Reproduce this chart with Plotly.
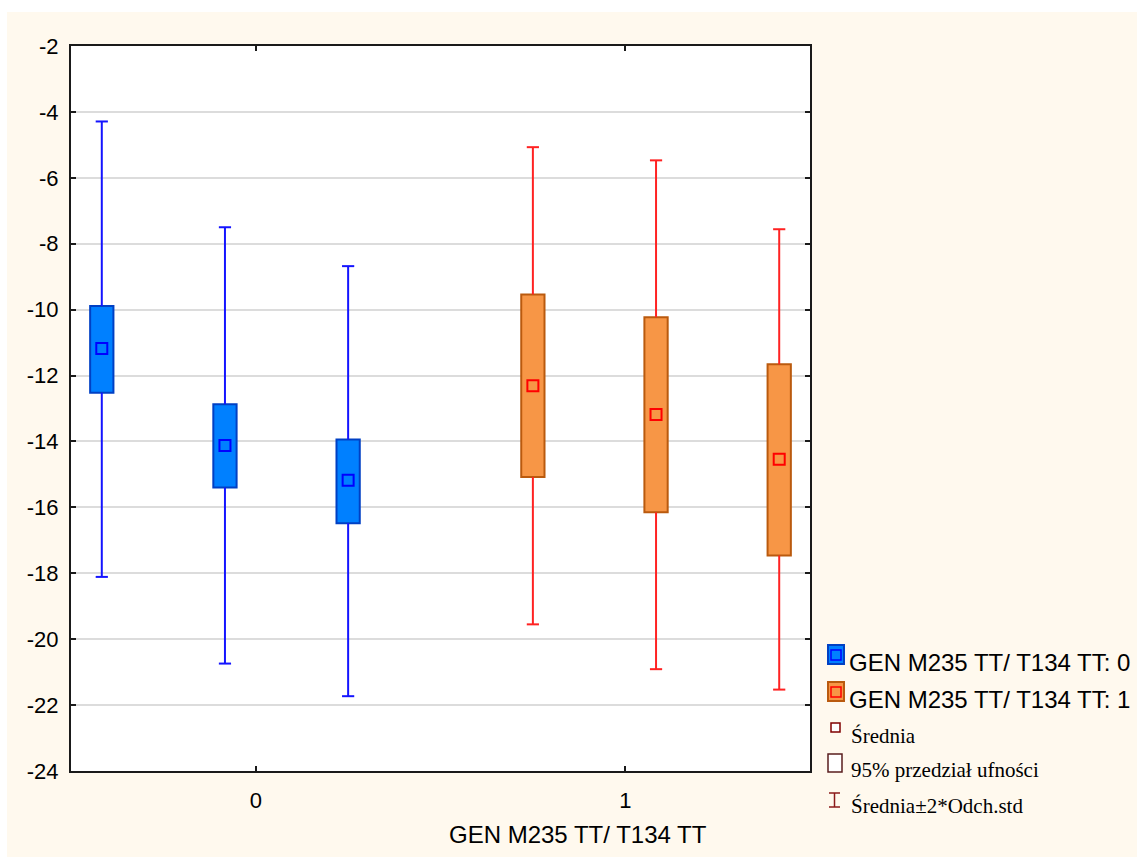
import plotly.graph_objects as go

# ---------------- data ----------------
categories = [0, 1]
category_labels = ["0", "1"]

means_g0 = [-11.18, -14.12, -15.18]
ci_hi_g0 = [-9.89, -12.87, -13.94]
ci_lo_g0 = [-12.52, -15.40, -16.48]
sd_hi_g0 = [-4.29, -7.50, -8.68]
sd_lo_g0 = [-18.11, -20.74, -21.73]

means_g1 = [-12.31, -13.18, -14.54]
ci_hi_g1 = [-9.54, -10.23, -11.66]
ci_lo_g1 = [-15.08, -16.15, -17.46]
sd_hi_g1 = [-5.07, -5.47, -7.56]
sd_lo_g1 = [-19.55, -20.91, -21.53]

y_ticks = list(range(-24, -1, 2))
y_tick_labels = [str(v) for v in y_ticks]

series_names = ["GEN M235 TT/ T134 TT: 0", "GEN M235 TT/ T134 TT: 1"]
legend_extra = ["Średnia", "95% przedział ufności", "Średnia±2*Odch.std"]
x_title = "GEN M235 TT/ T134 TT"

# ---------------- style ----------------
SANS = "Liberation Sans, Arial, sans-serif"
SERIF = "Liberation Serif, Times New Roman, serif"
CREAM = "#FFF9EE"
sub_offsets = {0: [-5 / 12, -1 / 12, 1 / 4], 1: [-1 / 4, 1 / 12, 5 / 12]}
box_w = 0.063
cap_half = 0.0165
styles = {
    0: dict(fill="#0080FF", border="#0040C4", whisk="#1414FF", mean="#0000FF"),
    1: dict(fill="#F79646", border="#BA5A0E", whisk="#FF2222", mean="#FF0000"),
}

W, H = 1137, 857
L, R, T, B = 71, 810, 46, 771


def px2x(px):
    return (px - L) / (R - L)


def py2y(py):
    return (B - py) / (B - T)


fig = go.Figure()

data = {
    0: (means_g0, ci_lo_g0, ci_hi_g0, sd_lo_g0, sd_hi_g0),
    1: (means_g1, ci_lo_g1, ci_hi_g1, sd_lo_g1, sd_hi_g1),
}

for g in categories:
    m, clo, chi, slo, shi = data[g]
    st = styles[g]
    xs = [categories[g] + o for o in sub_offsets[g]]
    # whiskers + caps
    wx, wy = [], []
    for x, a, b, c, d in zip(xs, clo, chi, slo, shi):
        wx += [x, x, None, x, x, None, x - cap_half, x + cap_half, None, x - cap_half, x + cap_half, None]
        wy += [b, d, None, a, c, None, d, d, None, c, c, None]
    fig.add_trace(go.Scatter(x=wx, y=wy, mode="lines",
                             line=dict(color=st["whisk"], width=2),
                             hoverinfo="skip", showlegend=False))
    # boxes (95% CI)
    fig.add_trace(go.Bar(x=xs, base=clo, y=[h - l for h, l in zip(chi, clo)],
                         width=box_w,
                         marker=dict(color=st["fill"], line=dict(color=st["border"], width=2)),
                         showlegend=False, name=series_names[g]))
    # means
    fig.add_trace(go.Scatter(x=xs, y=m, mode="markers",
                             marker=dict(symbol="square-open", size=11,
                                         color=st["mean"], line=dict(width=2, color=st["mean"])),
                             showlegend=False))

shapes = []
# cream page background with white top/left margin, white plot area
shapes.append(dict(type="rect", xref="paper", yref="paper", layer="below",
                   x0=px2x(7), x1=px2x(W + 10), y0=py2y(H + 10), y1=py2y(12),
                   fillcolor=CREAM, line=dict(width=0)))
shapes.append(dict(type="rect", xref="paper", yref="paper", layer="below",
                   x0=0, x1=1, y0=0, y1=1, fillcolor="white", line=dict(width=0)))


def prect(x0, y0, x1, y1, fill, line, lw):
    shapes.append(dict(type="rect", xref="paper", yref="paper",
                       x0=px2x(x0), x1=px2x(x1), y0=py2y(y1), y1=py2y(y0),
                       fillcolor=fill, line=dict(color=line, width=lw)))


def pline(x0, y0, x1, y1, color, lw):
    shapes.append(dict(type="line", xref="paper", yref="paper",
                       x0=px2x(x0), x1=px2x(x1), y0=py2y(y0), y1=py2y(y1),
                       line=dict(color=color, width=lw)))


# legend icons
prect(828, 645, 844, 664, styles[0]["fill"], styles[0]["border"], 2)
prect(831, 650, 841, 660, "rgba(0,0,0,0)", styles[0]["mean"], 1.5)
prect(828, 682, 844, 701, styles[1]["fill"], styles[1]["border"], 2)
prect(831, 687, 841, 697, "rgba(0,0,0,0)", styles[1]["mean"], 1.5)
prect(831, 723, 840, 732, "white", "#800000", 1.5)
prect(828, 754, 842, 772, "white", "#5A1E1E", 1.5)
pline(834.5, 793, 834.5, 807, "#8B1A1A", 1.5)
pline(829, 793, 840, 793, "#8B1A1A", 1.5)
pline(829, 807, 840, 807, "#8B1A1A", 1.5)

annotations = []


def ptext(text, x, y, font, size):
    annotations.append(dict(text=text, xref="paper", yref="paper", x=px2x(x), y=py2y(y),
                            xanchor="left", yanchor="middle", showarrow=False,
                            font=dict(family=font, size=size, color="black")))


ptext(series_names[0], 847, 662, SANS, 24)
ptext(series_names[1], 847, 699, SANS, 24)
ptext(legend_extra[0], 849, 736, SERIF, 21)
ptext(legend_extra[1], 849, 770, SERIF, 21)
ptext(legend_extra[2], 849, 806, SERIF, 21)

annotations.append(dict(text=x_title, xref="paper", yref="paper", x=px2x(578), y=py2y(835),
                        xanchor="center", yanchor="middle", showarrow=False,
                        font=dict(family=SANS, size=24, color="black")))

fig.update_layout(
    width=W, height=H,
    margin=dict(l=L, r=W - R, t=T, b=H - B, autoexpand=False),
    paper_bgcolor="white", plot_bgcolor="white",
    showlegend=False, barmode="overlay",
    shapes=shapes, annotations=annotations,
    font=dict(family=SANS, size=22, color="black"),
)
fig.update_xaxes(range=[-0.5, 1.5], tickvals=categories, ticktext=category_labels,
                 ticks="inside", ticklen=5, tickwidth=1.5, tickcolor="#1a1a1a",
                 showline=True, linecolor="#1a1a1a", linewidth=2, mirror="ticks",
                 showgrid=False, zeroline=False, ticklabelstandoff=9,
                 tickfont=dict(family=SANS, size=22, color="black"))
fig.update_yaxes(range=[-24, -2], tickvals=y_ticks, ticktext=y_tick_labels,
                 ticks="inside", ticklen=5, tickwidth=1.5, tickcolor="#1a1a1a",
                 showline=True, linecolor="#1a1a1a", linewidth=2, mirror="ticks",
                 showgrid=True, gridcolor="#DCDCDC", gridwidth=1.5, zeroline=False,
                 ticklabelstandoff=6,
                 tickfont=dict(family=SANS, size=22, color="black"))

fig.write_html("out.html")
